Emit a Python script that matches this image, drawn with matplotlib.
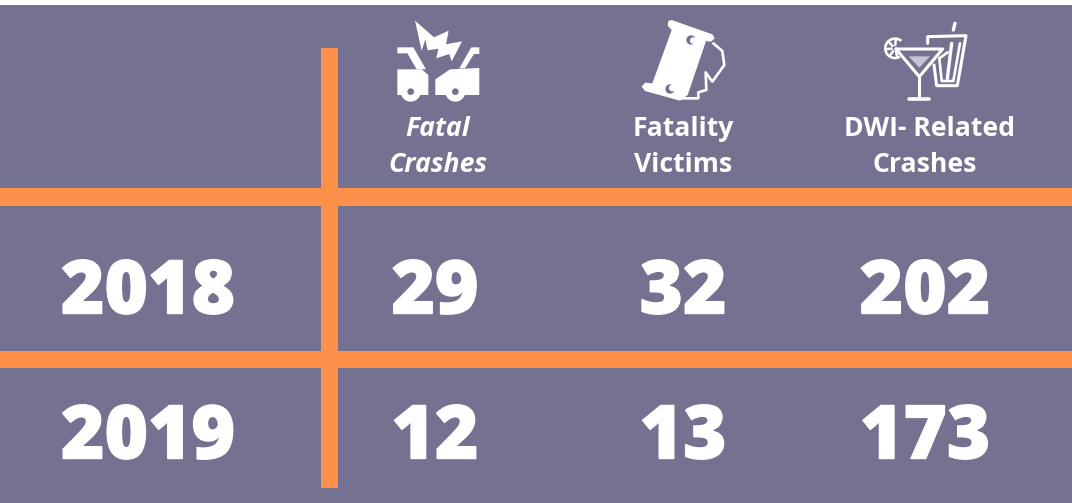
import matplotlib
matplotlib.use("Agg")
import numpy as np
import matplotlib.pyplot as plt
import matplotlib.patheffects as pe
from matplotlib.patches import Polygon, Circle, Rectangle, Wedge

years = ["2018", "2019"]
fatal_crashes = [29, 12]
fatality_victims = [32, 13]
dwi_crashes = [202, 173]

BG = "#747290"
OR = "#FE9049"
W = "white"

fig = plt.figure(figsize=(10.72, 5.03), dpi=100, facecolor="white")
ax = fig.add_axes([0, 0, 1, 1])
ax.set_xlim(0, 1072)
ax.set_ylim(503, 0)
ax.axis("off")

ax.add_patch(Rectangle((0, 5), 1072, 498, fc=BG, ec="none", zorder=0))
ax.add_patch(Rectangle((320.5, 47.5), 17, 440.5, fc=OR, ec="none", zorder=1))
ax.add_patch(Rectangle((0, 188), 1072, 17.5, fc=OR, ec="none", zorder=1))
ax.add_patch(Rectangle((0, 351), 1072, 16.5, fc=OR, ec="none", zorder=1))

FONT = "Open Sans"
heavy = [pe.withStroke(linewidth=1.0, foreground=W)]
col_x = [435, 683, 925]
row_y = [285, 430]
for y, yr in zip(row_y, years):
    ax.text(148, y, yr, family=FONT, weight=800, fontsize=53.5, color=W, ha="center",
            va="center_baseline", path_effects=heavy)
for x, vals in zip(col_x, (fatal_crashes, fatality_victims, dwi_crashes)):
    for y, v in zip(row_y, vals):
        ax.text(x, y, str(v), family=FONT, weight=800, fontsize=53.5, color=W, ha="center",
                va="center_baseline", path_effects=heavy)

head = [(438, 438, "Fatal", "Crashes", "italic"),
        (683, 683, "Fatality", "Victims", "normal"),
        (930, 925, "DWI- Related", "Crashes", "normal")]
for x1, x2, l1, l2, st in head:
    ax.text(x1, 129.5, l1, family=FONT, weight="bold", style=st, fontsize=19.2, color=W, ha="center", va="center")
    ax.text(x2, 165.5, l2, family=FONT, weight="bold", style=st, fontsize=19.2, color=W, ha="center", va="center")


def zp(pts, ox, oy):
    return [(ox + a / 3, oy + b / 3) for a, b in pts]


def poly(pts, ox, oy, fc=W, z=3):
    ax.add_patch(Polygon(zp(pts, ox, oy), closed=True, fc=fc, ec="none", lw=0, zorder=z))


def line(pts, ox, oy, lw=2.0, color=W, z=3):
    q = zp(pts, ox, oy)
    ax.plot([p[0] for p in q], [p[1] for p in q], color=color, lw=lw, zorder=z,
            solid_capstyle="round", solid_joinstyle="round")


def circ(a, b, r, ox, oy, fc=W, z=4):
    ax.add_patch(Circle((ox + a / 3, oy + b / 3), r / 3, fc=fc, ec="none", zorder=z))


# crash icon
o = (370, 0)
poly([(135, 62), (192, 112), (236, 92), (228, 133), (276, 124), (245, 184), (238, 162), (199, 175),
      (205, 146), (173, 151), (166, 118), (155, 152)], *o)
poly([(82, 142), (130, 142), (168, 208), (140, 208), (112, 160), (82, 160)], *o)
poly([(82, 208), (155, 208), (175, 225), (175, 285), (82, 285)], *o)
circ(122, 275, 30, *o)
circ(122, 275, 10, *o, fc=BG, z=5)
poly([(328, 142), (304, 142), (268, 205), (285, 205), (312, 162), (328, 162)], *o)
poly([(328, 204), (240, 208), (196, 238), (196, 285), (328, 285)], *o)
circ(256, 275, 30, *o)
circ(256, 275, 10, *o, fc=BG, z=5)

# overturned car icon
o = (635, 15)
poly([(100, 18), (110, 15), (232, 58), (239, 70), (228, 80), (213, 78), (158, 240), (135, 257),
      (30, 228), (20, 215), (30, 203), (52, 205), (110, 45), (98, 32)], *o)
circ(168, 75, 14, *o, fc=BG)
circ(175, 77, 10, *o)
circ(105, 222, 14, *o, fc=BG)
circ(112, 219, 10, *o)
line([(235, 85), (262, 108), (268, 150), (232, 200), (212, 172), (214, 225), (190, 232),
      (190, 250), (135, 250)], *o, lw=1.9)

# cocktail and glass icon
o = (880, 15)
lime = (45, 100)
cx, cy = o[0] + lime[0] / 3, o[1] + lime[1] / 3
ax.add_patch(Wedge((cx, cy), 33 / 3, 60, 310, width=2.6, fc=W, ec="none", zorder=3))
for ang in (75, 125, 175, 225, 275):
    t = np.deg2rad(ang)
    line([(lime[0] + 10 * np.cos(t), lime[1] + 10 * np.sin(t)),
          (lime[0] + 24 * np.cos(t), lime[1] + 24 * np.sin(t))], *o, lw=1.8)
line([(143, 85), (143, 65), (258, 62), (232, 212), (170, 212), (162, 150)], *o, lw=2.2)
line([(178, 130), (185, 198), (220, 198), (240, 85)], *o, lw=1.9)
line([(178, 130), (203, 112)], *o, lw=1.9)
line([(225, 25), (220, 45)], *o, lw=2.4)
line([(215, 85), (202, 190)], *o, lw=2.4)
poly([(45, 100), (190, 100), (118, 185)], *o, fc=BG, z=3.5)
line([(48, 102), (188, 102), (118, 185), (48, 102)], *o, lw=2.2, z=4)
poly([(86, 124), (150, 124), (118, 158)], *o, fc="#c4c3d1", z=4)
line([(118, 185), (118, 248)], *o, lw=2.2, z=4)
line([(88, 251), (148, 251)], *o, lw=2.6, z=4)

fig.savefig("out.png", dpi=100, facecolor="white")
